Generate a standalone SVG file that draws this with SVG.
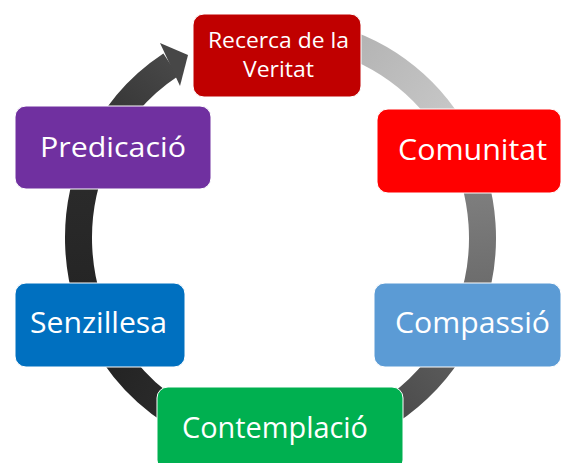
<svg xmlns="http://www.w3.org/2000/svg" width="562" height="463" viewBox="0 0 562 463">
<defs>
<style>
.seg{fill:none;stroke-width:27;stroke-linecap:butt}
.box{stroke:#ffffff;stroke-width:1}
.lbl{font-family:"Open Sans","Noto Sans","Liberation Sans",sans-serif;fill:#ffffff;text-anchor:middle}
</style>
<linearGradient id="gA" gradientUnits="userSpaceOnUse" x1="329.37" y1="38.12" x2="460.48" y2="144.48"><stop offset="0" stop-color="#b0b0b0"/><stop offset="1" stop-color="#cbcbcb"/></linearGradient>
<linearGradient id="gB" gradientUnits="userSpaceOnUse" x1="458.85" y1="141.28" x2="470.32" y2="308.45"><stop offset="0" stop-color="#888888"/><stop offset="1" stop-color="#686868"/></linearGradient>
<linearGradient id="gC" gradientUnits="userSpaceOnUse" x1="471.5" y1="305.07" x2="332.78" y2="436.98"><stop offset="0" stop-color="#666666"/><stop offset="1" stop-color="#3e3e3e"/></linearGradient>
<linearGradient id="gD" gradientUnits="userSpaceOnUse" x1="336.17" y1="436.03" x2="105.57" y2="341"><stop offset="0" stop-color="#3c3c3c"/><stop offset="1" stop-color="#222222"/></linearGradient>
<linearGradient id="gE" gradientUnits="userSpaceOnUse" x1="107.35" y1="344.09" x2="97.43" y2="150.94"><stop offset="0" stop-color="#222222"/><stop offset="1" stop-color="#2c2c2c"/></linearGradient>
<linearGradient id="gF" gradientUnits="userSpaceOnUse" x1="95.97" y1="154.22" x2="170.49" y2="65.23"><stop offset="0" stop-color="#2d2d2d"/><stop offset="1" stop-color="#474747"/></linearGradient>
</defs>
<g id="connectors">
<path class="seg" stroke="url(#gA)" d="M329.37 38.12 A202 206 0 0 1 460.48 144.48"/>
<path class="seg" stroke="url(#gB)" d="M458.85 141.28 A202 206 0 0 1 470.32 308.45"/>
<path class="seg" stroke="url(#gC)" d="M471.5 305.07 A202 206 0 0 1 332.78 436.98"/>
<path class="seg" stroke="url(#gD)" d="M336.17 436.03 A202 206 0 0 1 105.57 341"/>
<path class="seg" stroke="url(#gE)" d="M107.35 344.09 A202 206 0 0 1 97.43 150.94"/>
<path class="seg" stroke="url(#gF)" d="M95.97 154.22 A202 206 0 0 1 170.8 64.8"/>
<polygon points="160,43 188,55 180,86" fill="#474747"/>
</g>
<g id="node-recerca">
<rect class="box" x="193" y="14" width="168" height="83" rx="11" fill="#c00000"/>
<text class="lbl" x="278.5" y="48" font-size="22" textLength="141" lengthAdjust="spacingAndGlyphs">Recerca de la</text>
<text class="lbl" x="278.5" y="77" font-size="22" textLength="71" lengthAdjust="spacingAndGlyphs">Veritat</text>
</g>
<g id="node-comunitat">
<rect class="box" x="377" y="109" width="184" height="84" rx="11" fill="#ff0000"/>
<text class="lbl" x="472.5" y="160" font-size="29" textLength="149" lengthAdjust="spacingAndGlyphs">Comunitat</text>
</g>
<g id="node-compassio">
<rect class="box" x="374" y="283" width="187" height="84" rx="11" fill="#5b9bd5"/>
<text class="lbl" x="472.5" y="333" font-size="29" textLength="155" lengthAdjust="spacingAndGlyphs">Compassió</text>
</g>
<g id="node-contemplacio">
<rect class="box" x="157" y="387" width="246" height="84" rx="11" fill="#00b050"/>
<text class="lbl" x="275" y="438" font-size="30" textLength="186" lengthAdjust="spacingAndGlyphs">Contemplació</text>
</g>
<g id="node-senzillesa">
<rect class="box" x="15" y="283" width="170" height="84" rx="11" fill="#0070c0"/>
<text class="lbl" x="98.5" y="333" font-size="29" textLength="137" lengthAdjust="spacingAndGlyphs">Senzillesa</text>
</g>
<g id="node-predicacio">
<rect class="box" x="15" y="106" width="196" height="83" rx="11" fill="#7030a0"/>
<text class="lbl" x="113" y="157" font-size="28" textLength="146" lengthAdjust="spacingAndGlyphs">Predicació</text>
</g>
</svg>
